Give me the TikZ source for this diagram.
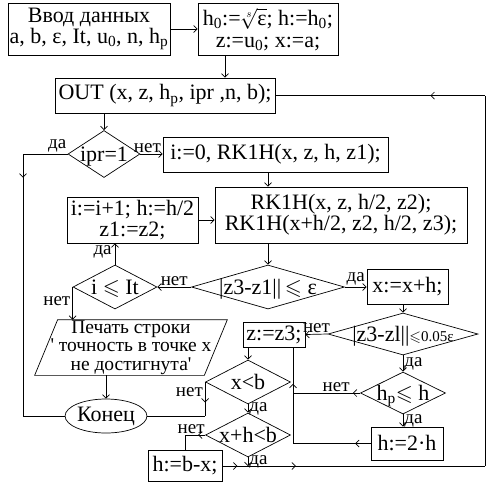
\documentclass[tikz,border=0pt]{standalone}
\usepackage{fontspec}
\usepackage{amssymb}
\setmainfont{Liberation Serif}
\usetikzlibrary{arrows.meta,decorations.markings,shapes.geometric,calc}
\newcommand{\dtx}[1]{\raisebox{-0.32em}[0pt][0pt]{#1}}
\newcommand{\sbs}[1]{\textsubscript{#1}}
\tikzset{
  box/.style={draw, rectangle, inner sep=0pt, align=center},
  dia/.style={draw, diamond, aspect=10, inner sep=0pt},
  lbl/.style={font=\fontsize{19}{19}\selectfont, inner sep=1pt},
  tipa/.tip={Straight Barb[length=3.5pt,width=7pt]},
  arr/.style={-tipa},
  midarr/.style={postaction={decorate}, decoration={markings, mark=at position #1 with {\arrow{tipa}}}},
  midarrtwo/.style 2 args={postaction={decorate}, decoration={markings, mark=at position #1 with {\arrow{tipa}}, mark=at position #2 with {\arrow{tipa}}}}
}
\begin{document}
\begin{tikzpicture}[x=1pt,y=-1pt, line width=0.7pt, font=\fontsize{22}{21}\selectfont]
\useasboundingbox (0,0) rectangle (494,488);
% nodes
\node[box, minimum width=162pt, minimum height=52pt] (b1) at (89,29) {Ввод данных\\a, b, ε, It, u\sbs{0}, n, h\sbs{p}};
\node[box, minimum width=140pt, minimum height=52pt, font=\fontsize{22}{22.5}\selectfont] (b2) at (268,29.5) {h\sbs{0}:=$\sqrt[s]{\mbox{ε}}$; h:=h\sbs{0};\\z:=u\sbs{0}; x:=a;};
\node[box, minimum width=220pt, minimum height=35pt] (out) at (165,95.5) {OUT (x, z, h\sbs{p}, ipr ,n, b);};
\node[dia, minimum width=72pt, minimum height=47pt] (d1) at (104,154) {\dtx{ipr=1}};
\node[box, minimum width=225pt, minimum height=35pt] (b3) at (275.5,154.5) {i:=0, RK1H(x, z, h, z1);};
\node[box, minimum width=252pt, minimum height=56pt] (b4) at (341,215) {RK1H(x, z, h/2, z2);\\RK1H(x+h/2, z2, h/2, z3);};
\node[box, minimum width=131pt, minimum height=46pt] (b5) at (132.5,220) {i:=i+1; h:=h/2\\z1:=z2;};
\node[dia, minimum width=153pt, minimum height=44pt] (d2) at (268,287) {\dtx{|z3-z1||\,$\leqslant$ ε}};
\node[box, minimum width=81pt, minimum height=35pt] (b6) at (407.5,287) {x:=x+h;};
\node[dia, minimum width=84pt, minimum height=44pt] (d3) at (115,287) {\dtx{i $\leqslant$ It}};
\node[rectangle, inner sep=0pt, align=center, minimum width=169pt, minimum height=55pt, font=\fontsize{19.5}{18.5}\selectfont] (p1) at (131,347.5) {Печать строки\\\textquotesingle\ точность в точке x\\не достигнута\textquotesingle};
\draw ([xshift=11.5pt]p1.north west) -- ([xshift=11.5pt]p1.north east) -- ([xshift=-11.5pt]p1.south east) -- ([xshift=-11.5pt]p1.south west) -- cycle;
\node[draw, ellipse, minimum width=70pt, minimum height=34pt, inner sep=0pt] (e1) at (106,416) {Конец};
\node[dia, minimum width=150pt, minimum height=42pt] (d4) at (403,334) {\dtx{|z3-zl||{\fontsize{15}{15}\selectfont$\leqslant$0.05ε}}};
\node[box, minimum width=62pt, minimum height=25pt] (b7) at (274,334.5) {z:=z3;};
\node[dia, minimum width=85pt, minimum height=42pt] (d5) at (403,393) {\dtx{h\sbs{p}$\leqslant$ h}};
\node[box, minimum width=72pt, minimum height=33pt] (b8) at (407,443.5) {h:=2·h};
\node[dia, minimum width=85pt, minimum height=44pt] (d6) at (248,382) {\dtx{x<b}};
\node[dia, minimum width=85pt, minimum height=44pt] (d7) at (248,435) {\dtx{x+h<b}};
\node[box, minimum width=74pt, minimum height=31pt] (b9) at (185,466) {h:=b-x;};
\coordinate (Lx) at (23,0);
\coordinate (Rx) at (485,0);
\coordinate (Vx) at (293,0);
% connectors
\draw[arr] (b1) -- (b1 -| b2.west);
\draw[arr] ([xshift=-43pt]b2.south) -- ([xshift=-43pt]b2.south |- out.north);
\draw[arr] (d1.north |- out.south) -- (d1.north);
\draw[arr] (d1.east) -- (d1.east -| b3.west);
\draw[arr] (b3.south -| d2.north) -- (b4.north -| d2.north);
\draw[arr] (b4.south -| d2.north) -- (d2.north);
\draw[arr] (b5.east) -- (b5.east -| b4.west);
\draw[arr] (d2.west) -- (d3.east);
\draw[arr] (d2.east) -- (b6.west);
\draw[arr] (d3.north) -- (d3.north |- b5.south);
\draw[arr] (d3.west) -- (d3.west |- p1.north);
\draw[arr] (p1.south -| e1.north) -- (e1.north);
\draw (d1.west) -- (d1.west -| Lx);
\draw[midarr=0.09] (d1.west -| Lx) -- (Lx |- e1.west);
\draw (Lx |- e1.west) -- (e1.west);
\draw[arr] (b6.south -| d4.north) -- (d4.north);
\draw[arr] (d4.west) -- (b7.east);
\draw[arr] (d4.south) -- (d5.north);
\draw[arr] (d5.south) -- (d5.south |- b8.north);
\draw[midarr=0.11] (d5.west) -- (d5.west -| Vx);
\draw[midarr=0.2] (b8.west) -- (b8.west -| Vx);
\draw[midarr=0.62] (b8.west -| Vx) -- (b7.south -| Vx);
\draw[arr] (b7.south -| d6.north) -- (d6.north);
\draw[midarr=0.6] (d6.west) -- (d6.west |- e1.east);
\draw (d6.west |- e1.east) -- (e1.east);
\draw[arr] (d6.south) -- (d7.north);
\draw[midarr=0.35] (d7.west) -- (d7.west -| b9.north);
\draw (d7.west -| b9.north) -- (b9.north);
\draw[arr] (d7.south) -- (d7.south |- b9.east);
\draw[midarrtwo={0.057}{0.28}] (b9.east) -- (b9.east -| Rx);
\draw (b9.east -| Rx) -- (out.east -| Rx);
\draw[midarr=0.26] (out.east -| Rx) -- (out.east);
% labels
\node[lbl, anchor=south east] at (d1.west) {да};
\node[lbl, anchor=south] at ($(d1.east)+(7,0)$) {нет};
\node[lbl, anchor=east] at ($(d3.north)+(-2,-13)$) {да};
\node[lbl, anchor=east] at ($(d3.west)+(-1,14)$) {нет};
\node[lbl, anchor=south] at ($(d3.east)!0.5!(d2.west)$) {нет};
\node[lbl, anchor=south] at ($(d2.east)!0.5!(b6.west)$) {да};
\node[lbl, anchor=south] at ($(d4.west)!0.5!(b7.east)$) {нет};
\node[lbl, anchor=west] at ($(d4.south)!0.5!(d5.north)$) {да};
\node[lbl, anchor=south] at ($(d5.west)+(-24,0)$) {нет};
\node[lbl, anchor=west] at ($(d5.south)!0.5!(d5.south |- b8.north)$) {да};
\node[lbl, anchor=east] at ($(d6.west)+(-1,10)$) {нет};
\node[lbl, anchor=west] at ($(d6.south)!0.5!(d7.north)$) {да};
\node[lbl, anchor=south] at ($(d7.west)+(-14,0)$) {нет};
\node[lbl, anchor=west] at ($(d7.south)!0.5!(d7.south |- b9.east)$) {да};
\end{tikzpicture}
\end{document}
